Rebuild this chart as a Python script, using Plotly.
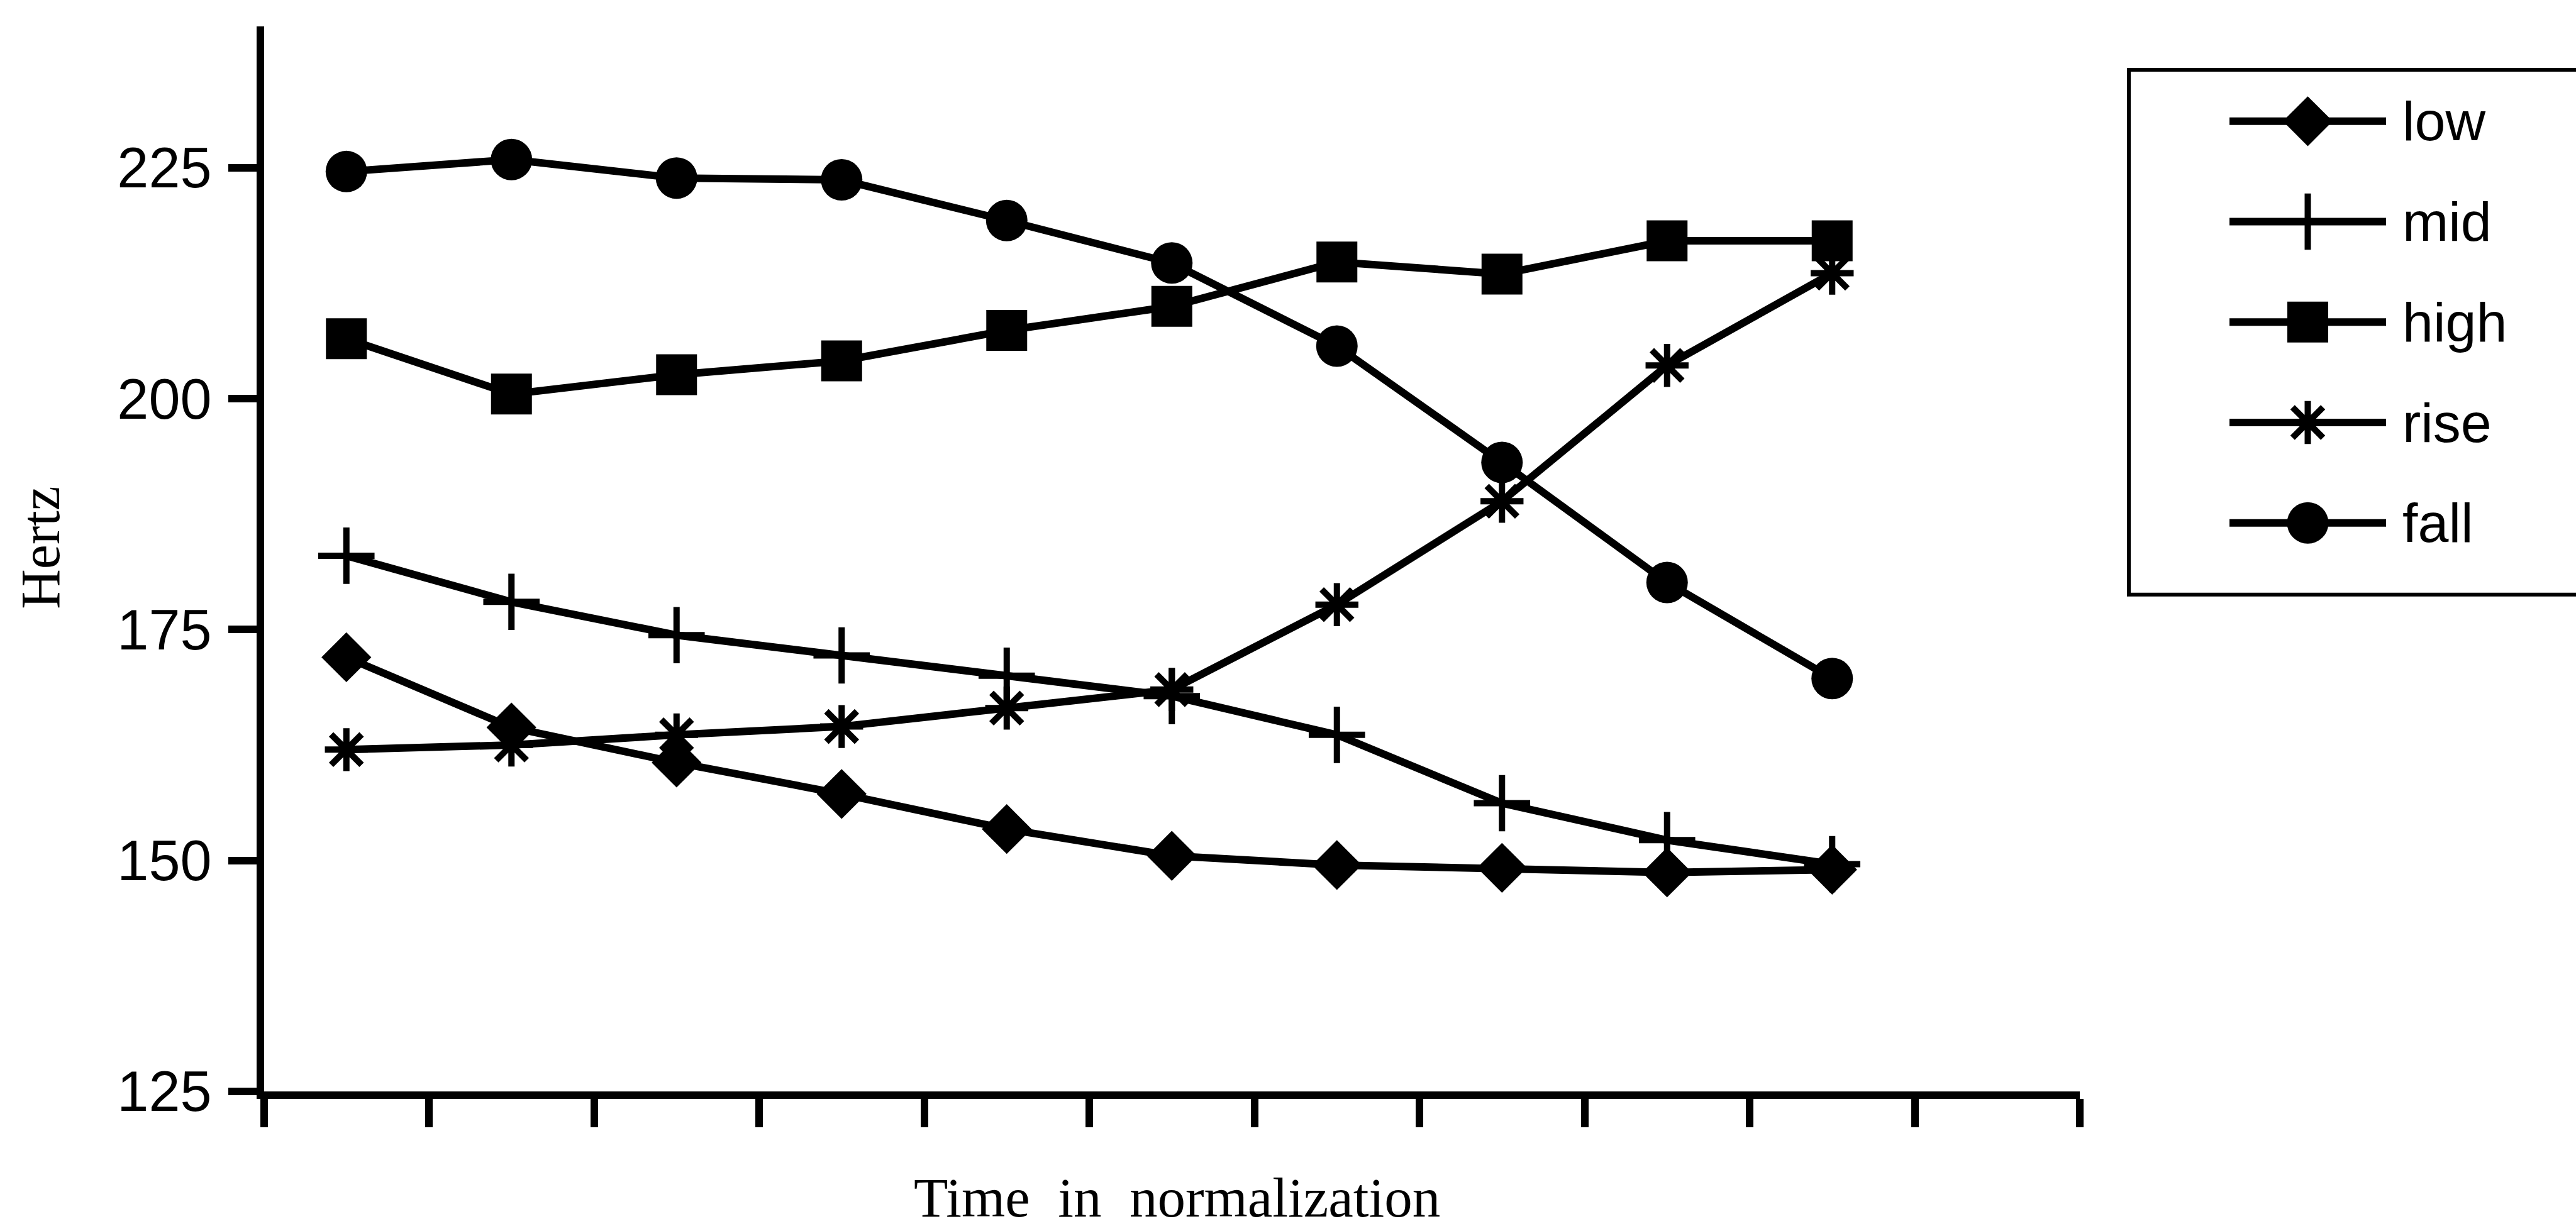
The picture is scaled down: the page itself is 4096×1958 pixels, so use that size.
import plotly.graph_objects as go

# Canvas size in pixels
W, H = 4096, 1958

# ---- data -------------------------------------------------------------
time_steps = list(range(1, 11))
series_names = ["low", "mid", "high", "rise", "fall"]

low = [172.0, 164.4, 160.6, 157.2, 153.4, 150.5, 149.5, 149.2, 148.7, 149.0]
mid = [183.0, 178.0, 174.4, 172.2, 170.0, 167.8, 163.6, 156.2, 152.2, 149.6]
high = [206.5, 200.5, 202.6, 204.1, 207.4, 210.0, 214.8, 213.5, 217.1, 217.1]
rise = [162.0, 162.5, 163.6, 164.5, 166.5, 168.5, 177.7, 188.9, 203.6, 213.6]
fall = [224.6, 225.9, 223.9, 223.7, 219.3, 214.7, 205.7, 193.1, 180.1, 169.7]

y_tick_values = [125, 150, 175, 200, 225]
y_range = [125, 240.3]
x_range = [0.5, 11.5]
x_tick_values = [k + 0.5 for k in range(0, 12)]   # ticks sit between time steps

x_title = "Time\u00a0 in\u00a0 normalization"
y_title = "Hertz"

# ---- styling ----------------------------------------------------------
INK = "black"
LINE_W = 12
AXIS_W = 12

marker_styles = {
    "low":  dict(symbol="diamond", size=61, line=dict(width=0, color=INK)),
    "mid":  dict(symbol="cross-thin-open", size=64, line=dict(width=10, color=INK)),
    "high": dict(symbol="square", size=65, line=dict(width=0, color=INK)),
    "rise": dict(symbol="asterisk-open", size=57, line=dict(width=10, color=INK)),
    "fall": dict(symbol="circle", size=66, line=dict(width=0, color=INK)),
}
series_values = {"low": low, "mid": mid, "high": high, "rise": rise, "fall": fall}

# plot-area placement (pixels from top-left)
PLOT_L, PLOT_R = 419.5, 3307.0
PLOT_T, PLOT_B = 43.4, 1782.2

# legend placement (pixels)
LEG_BOX = dict(l=3385, t=114, b=971)
LEG_LINE_L, LEG_LINE_R = 3545, 3794
LEG_ROW0, LEG_ROW_STEP = 198, 164
LEG_TEXT_X = 3818

SANS = "Liberation Sans, Arial, sans-serif"
SERIF = "Liberation Serif, Times New Roman, serif"

fig = go.Figure()

# main series
for name in series_names:
    fig.add_trace(go.Scatter(
        x=time_steps, y=series_values[name], name=name,
        mode="lines+markers",
        line=dict(color=INK, width=LINE_W),
        marker=dict(color=INK, **marker_styles[name]),
        xaxis="x", yaxis="y", showlegend=False, cliponaxis=False,
    ))

# legend samples drawn on their own small axes
for i, name in enumerate(series_names):
    fig.add_trace(go.Scatter(
        x=[0, 1], y=[i, i], mode="lines",
        line=dict(color=INK, width=LINE_W),
        xaxis="x2", yaxis="y2", showlegend=False, hoverinfo="skip",
        cliponaxis=False,
    ))
    fig.add_trace(go.Scatter(
        x=[0.5], y=[i], mode="markers",
        marker=dict(color=INK, **marker_styles[name]),
        xaxis="x2", yaxis="y2", showlegend=False, hoverinfo="skip",
        cliponaxis=False,
    ))

n_rows = len(series_names)
leg_top = LEG_ROW0 - LEG_ROW_STEP / 2
leg_bot = LEG_ROW0 + LEG_ROW_STEP * (n_rows - 0.5)

annotations = [
    dict(text=name, xref="paper", yref="y2", x=LEG_TEXT_X / W, y=i,
         xanchor="left", yanchor="middle", showarrow=False,
         font=dict(family=SANS, size=88, color=INK))
    for i, name in enumerate(series_names)
]
annotations.append(dict(
    text=x_title, xref="paper", yref="paper",
    x=1871 / W, y=1 - 1956 / H, xanchor="center", yanchor="middle",
    showarrow=False, font=dict(family=SERIF, size=89, color=INK)))
annotations.append(dict(
    text=y_title, xref="paper", yref="paper", textangle=-90,
    x=65 / W, y=1 - 895 / H, xanchor="center", yanchor="middle",
    showarrow=False, font=dict(family=SERIF, size=88, color=INK)))

fig.update_layout(
    width=W, height=H,
    margin=dict(l=0, r=0, t=0, b=0),
    paper_bgcolor="white", plot_bgcolor="white",
    showlegend=False,
    xaxis=dict(
        domain=[PLOT_L / W, PLOT_R / W], range=x_range, anchor="y",
        showgrid=False, zeroline=False,
        showline=True, linecolor=INK, linewidth=AXIS_W,
        tickmode="array", tickvals=x_tick_values, showticklabels=False,
        ticks="outside", ticklen=45, tickwidth=AXIS_W, tickcolor=INK,
    ),
    yaxis=dict(
        domain=[1 - PLOT_B / H, 1 - PLOT_T / H], range=y_range, anchor="x",
        showgrid=False, zeroline=False,
        showline=True, linecolor=INK, linewidth=AXIS_W,
        tickmode="array", tickvals=y_tick_values,
        ticks="outside", ticklen=45, tickwidth=AXIS_W, tickcolor=INK,
        tickfont=dict(family=SANS, size=90, color=INK),
        ticklabelstandoff=8,
    ),
    xaxis2=dict(domain=[LEG_LINE_L / W, LEG_LINE_R / W], range=[0, 1],
                anchor="y2", visible=False),
    yaxis2=dict(domain=[1 - leg_bot / H, 1 - leg_top / H],
                range=[n_rows - 0.5, -0.5], anchor="x2", visible=False),
    shapes=[dict(type="rect", xref="paper", yref="paper",
                 x0=LEG_BOX["l"] / W, x1=1.05,
                 y0=1 - LEG_BOX["b"] / H, y1=1 - LEG_BOX["t"] / H,
                 line=dict(color=INK, width=6), fillcolor="rgba(0,0,0,0)")],
    annotations=annotations,
)

fig.write_html("out.html")
